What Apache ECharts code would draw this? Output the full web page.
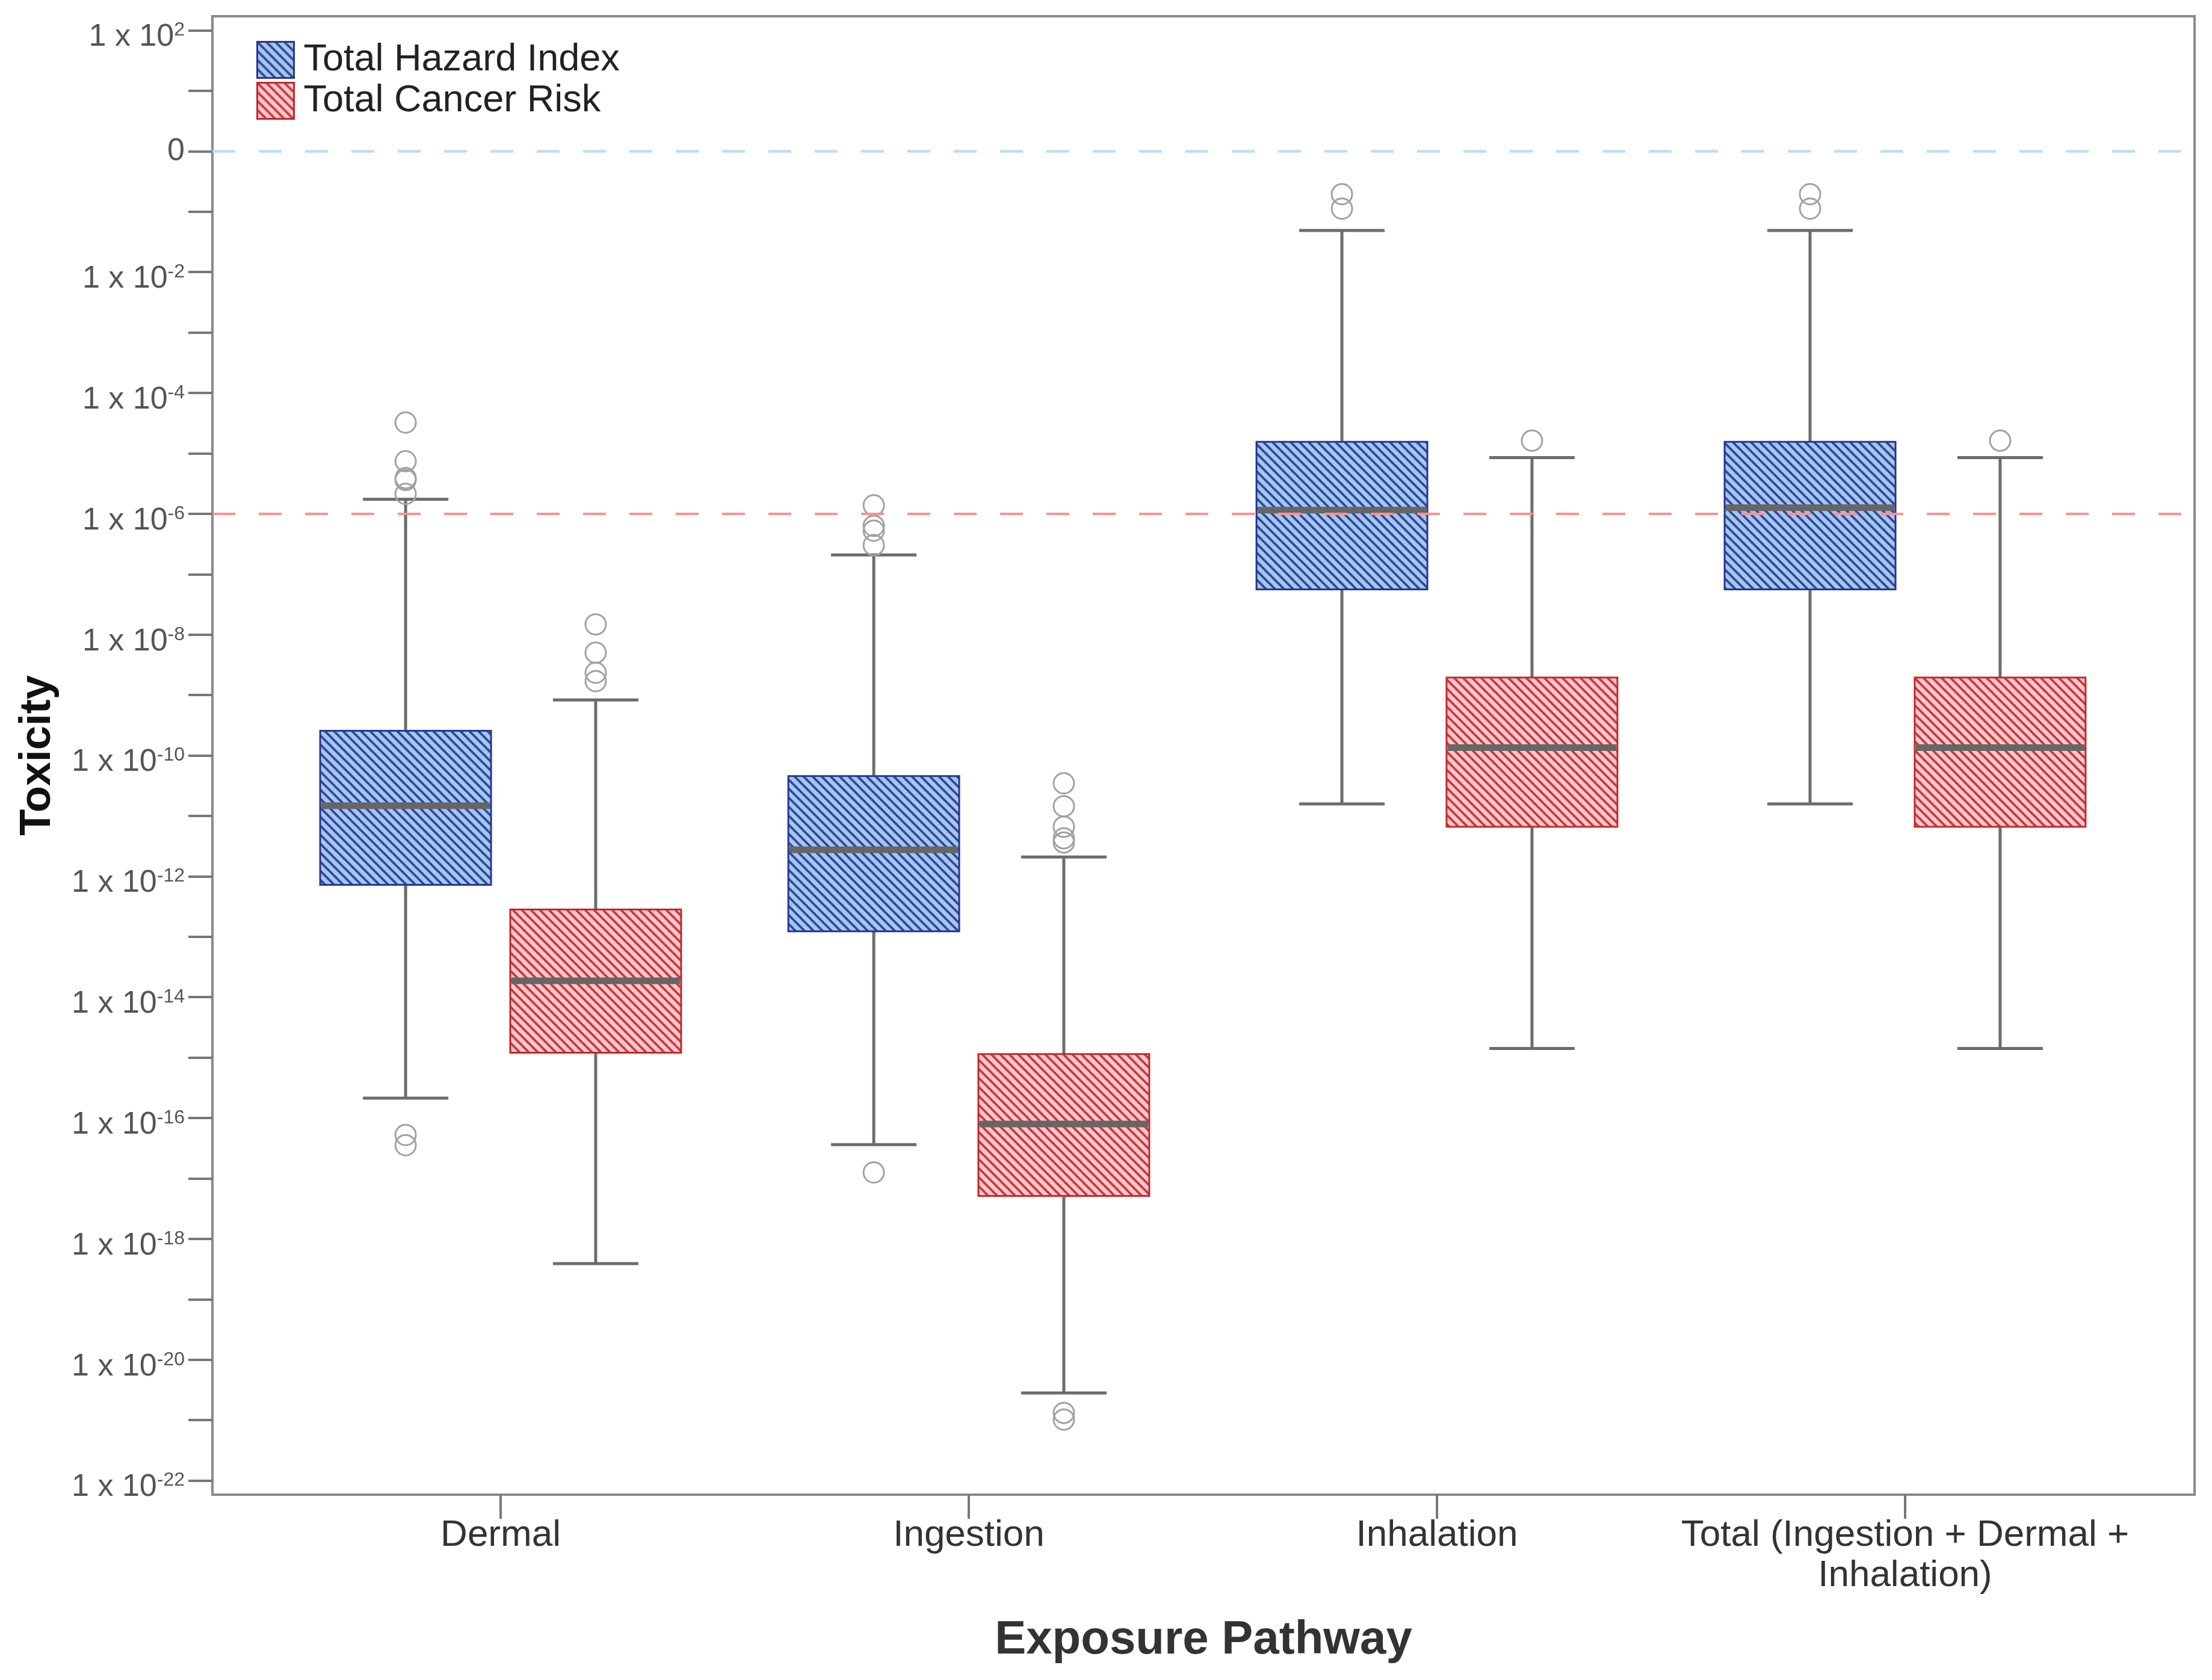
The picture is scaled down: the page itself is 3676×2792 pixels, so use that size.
<!DOCTYPE html>
<html>
<head>
<meta charset="utf-8">
<script src="https://cdn.jsdelivr.net/npm/echarts@6/dist/echarts.min.js"></script>
<style>html,body{margin:0;padding:0;background:#fff}#c{width:3676px;height:2792px}</style>
</head>
<body>
<div id="c"></div>
<script>
// ---- data (all toxicity values stored as log10 exponents) ----
const categories = ['Dermal', 'Ingestion', 'Inhalation', 'Total (Ingestion + Dermal +\nInhalation)'];
const seriesNames = ['Total Hazard Index', 'Total Cancer Risk'];

// Total Hazard Index
const hiLow  = [-15.67, -16.44, -10.80, -10.80];
const hiQ1   = [-12.14, -12.91, -7.25, -7.25];
const hiMed  = [-10.83, -11.56, -5.94, -5.90];
const hiQ3   = [-9.59, -10.34, -4.81, -4.81];
const hiHigh = [-5.76, -6.68, -1.31, -1.31];
const hiOutliers = [
  [-4.49, -5.13, -5.41, -5.44, -5.67, -16.28, -16.45],
  [-5.86, -6.20, -6.28, -6.52, -16.90],
  [-0.71, -0.95],
  [-0.71, -0.95]
];

// Total Cancer Risk
const crLow  = [-18.41, -20.55, -14.85, -14.85];
const crQ1   = [-14.92, -17.29, -11.18, -11.18];
const crMed  = [-13.73, -16.10, -9.87, -9.87];
const crQ3   = [-12.55, -14.94, -8.71, -8.71];
const crHigh = [-9.08, -11.68, -5.07, -5.07];
const crOutliers = [
  [-7.83, -8.30, -8.63, -8.77],
  [-10.46, -10.84, -11.18, -11.37, -11.44, -20.88, -20.99],
  [-4.79],
  [-4.79]
];

// reference lines (log10): 1 (=10^0) and 1e-6
const refLines = [0, -6];

// axis ticks (log10 exponents)
const yTickExponents = [-22,-21,-20,-19,-18,-17,-16,-15,-14,-13,-12,-11,-10,-9,-8,-7,-6,-5,-4,-3,-2,-1,0,1,2];
const yLabelExponents = [-22,-20,-18,-16,-14,-12,-10,-8,-6,-4,-2,0,2];

// ---- styling ----
const F = "'Liberation Sans', Arial, Helvetica, sans-serif";
const BOX_OFFSET = 0.203;   // fraction of category spacing
const BOX_WIDTH = 0.365;    // fraction of category spacing
const HI_BORDER = '#2a3590';
const CR_BORDER = '#c3282e';

function hatch(bg, fg) {
  const s = 15;
  const c = document.createElement('canvas');
  c.width = s; c.height = s;
  const g = c.getContext('2d');
  g.fillStyle = bg; g.fillRect(0, 0, s, s);
  g.strokeStyle = fg; g.lineWidth = 3.8;
  for (const k of [-s, 0, s]) {
    g.beginPath(); g.moveTo(k - 3, -3); g.lineTo(k + s + 3, s + 3); g.stroke();
  }
  return { image: c, repeat: 'repeat' };
}
const hiFill = hatch('#a2c8ef', '#34479a');
const crFill = hatch('#fbc8cb', '#c9393f');

function boxData(low, q1, med, q3, high) {
  return categories.map((c, i) => [i + 1, low[i], q1[i], med[i], q3[i], high[i]]);
}
function outlierData(outs) {
  const d = [];
  outs.forEach((arr, i) => arr.forEach(v => d.push([i + 1, v])));
  return d;
}

function boxRenderer(side, fill, border) {
  return function (params, api) {
    const x = api.value(0);
    const band = api.size([1, 0])[0];
    const cx = api.coord([x, 0])[0] + side * BOX_OFFSET * band;
    const half = BOX_WIDTH * band / 2;
    const cap = half / 2;
    const y = k => api.coord([x, api.value(k)])[1];
    const yl = y(1), yq1 = y(2), ym = y(3), yq3 = y(4), yh = y(5);
    const ws = { stroke: '#6c6c6c', lineWidth: 5 };
    return {
      type: 'group',
      children: [
        { type: 'line', shape: { x1: cx, y1: yh, x2: cx, y2: yl }, style: ws },
        { type: 'line', shape: { x1: cx - cap, y1: yh, x2: cx + cap, y2: yh }, style: ws },
        { type: 'line', shape: { x1: cx - cap, y1: yl, x2: cx + cap, y2: yl }, style: ws },
        { type: 'rect', shape: { x: cx - half, y: yq3, width: 2 * half, height: yq1 - yq3 },
          style: { fill: fill, stroke: border, lineWidth: 3 } },
        { type: 'line', shape: { x1: cx - half + 2, y1: ym, x2: cx + half - 2, y2: ym },
          style: { stroke: '#666', lineWidth: 11 } }
      ]
    };
  };
}
function outlierRenderer(side) {
  return function (params, api) {
    const x = api.value(0);
    const band = api.size([1, 0])[0];
    const p = api.coord([x, api.value(1)]);
    return {
      type: 'circle',
      shape: { cx: p[0] + side * BOX_OFFSET * band, cy: p[1], r: 17 },
      style: { fill: 'none', stroke: '#a2a2a2', lineWidth: 3 }
    };
  };
}

const chart = echarts.init(document.getElementById('c'), null, { renderer: 'canvas' });
chart.setOption({
  backgroundColor: '#fff',
  animation: false,
  grid: {
    left: 353, right: 29, top: 27, bottom: 308,
    show: true, borderColor: '#8a8a8a', borderWidth: 4, backgroundColor: '#fff',
    outerBoundsMode: 'none', containLabel: false
  },
  legend: {
    orient: 'vertical', left: 426, top: 68, padding: 0, itemGap: 5,
    itemWidth: 61, itemHeight: 60, icon: 'rect', selectedMode: false,
    textStyle: { fontSize: 63, color: '#222', fontFamily: F, padding: [0, 0, 0, 11] },
    data: [
      { name: seriesNames[0], itemStyle: { color: hiFill, borderColor: HI_BORDER, borderWidth: 3 } },
      { name: seriesNames[1], itemStyle: { color: crFill, borderColor: CR_BORDER, borderWidth: 3 } }
    ]
  },
  xAxis: {
    type: 'value', min: 0.3843, max: 4.6183,
    axisLine: { show: false, onZero: false }, splitLine: { show: false },
    axisTick: { show: true, customValues: [1, 2, 3, 4], length: 40, lineStyle: { color: '#777', width: 4 } },
    axisLabel: {
      customValues: [1, 2, 3, 4],
      formatter: v => categories[Math.round(v) - 1],
      fontSize: 62, lineHeight: 67, color: '#333', margin: 34, fontFamily: F
    },
    name: 'Exposure Pathway', nameLocation: 'middle', nameGap: 203,
    nameTextStyle: { fontSize: 78, fontWeight: 'bold', color: '#333', fontFamily: F }
  },
  yAxis: {
    type: 'value', min: -22.233, max: 2.234,
    axisLine: { show: false, onZero: false }, splitLine: { show: false },
    axisTick: { show: true, customValues: yTickExponents, length: 40, lineStyle: { color: '#777', width: 4 } },
    axisLabel: {
      customValues: yLabelExponents,
      margin: 46,
      formatter: v => v === 0 ? '{z|0}' : '{m|1 x 10}{s|' + v + '}',
      rich: {
        z: { fontSize: 52, color: '#555', fontFamily: F },
        m: { fontSize: 52, lineHeight: 52, verticalAlign: 'bottom', color: '#555', fontFamily: F },
        s: { fontSize: 32, lineHeight: 75, color: '#555', fontFamily: F }
      }
    },
    name: 'Toxicity', nameLocation: 'middle', nameRotate: 90, nameGap: 254,
    nameTextStyle: { fontSize: 72, fontWeight: 'bold', color: '#111', fontFamily: F }
  },
  series: [
    {
      name: seriesNames[0], type: 'custom', renderItem: boxRenderer(-1, hiFill, HI_BORDER),
      itemStyle: { color: hiFill, borderColor: HI_BORDER },
      encode: { x: 0, y: [1, 2, 3, 4, 5] },
      data: boxData(hiLow, hiQ1, hiMed, hiQ3, hiHigh),
      z: 2,
      markLine: {
        silent: true, symbol: ['none', 'none'], label: { show: false },
        lineStyle: { type: [38, 39], width: 4 },
        data: [
          { yAxis: refLines[0], lineStyle: { color: '#bcdcf7', type: [38, 39], width: 4.5 } },
          { yAxis: refLines[1], lineStyle: { color: '#ff9090', type: [38, 39], width: 4 } }
        ]
      }
    },
    {
      name: seriesNames[1], type: 'custom', renderItem: boxRenderer(1, crFill, CR_BORDER),
      itemStyle: { color: crFill, borderColor: CR_BORDER },
      encode: { x: 0, y: [1, 2, 3, 4, 5] },
      data: boxData(crLow, crQ1, crMed, crQ3, crHigh),
      z: 2
    },
    {
      name: seriesNames[0], type: 'custom', renderItem: outlierRenderer(-1),
      itemStyle: { color: hiFill },
      encode: { x: 0, y: 1 },
      data: outlierData(hiOutliers), z: 3
    },
    {
      name: seriesNames[1], type: 'custom', renderItem: outlierRenderer(1),
      itemStyle: { color: crFill },
      encode: { x: 0, y: 1 },
      data: outlierData(crOutliers), z: 3
    }
  ]
});
</script>
</body>
</html>
